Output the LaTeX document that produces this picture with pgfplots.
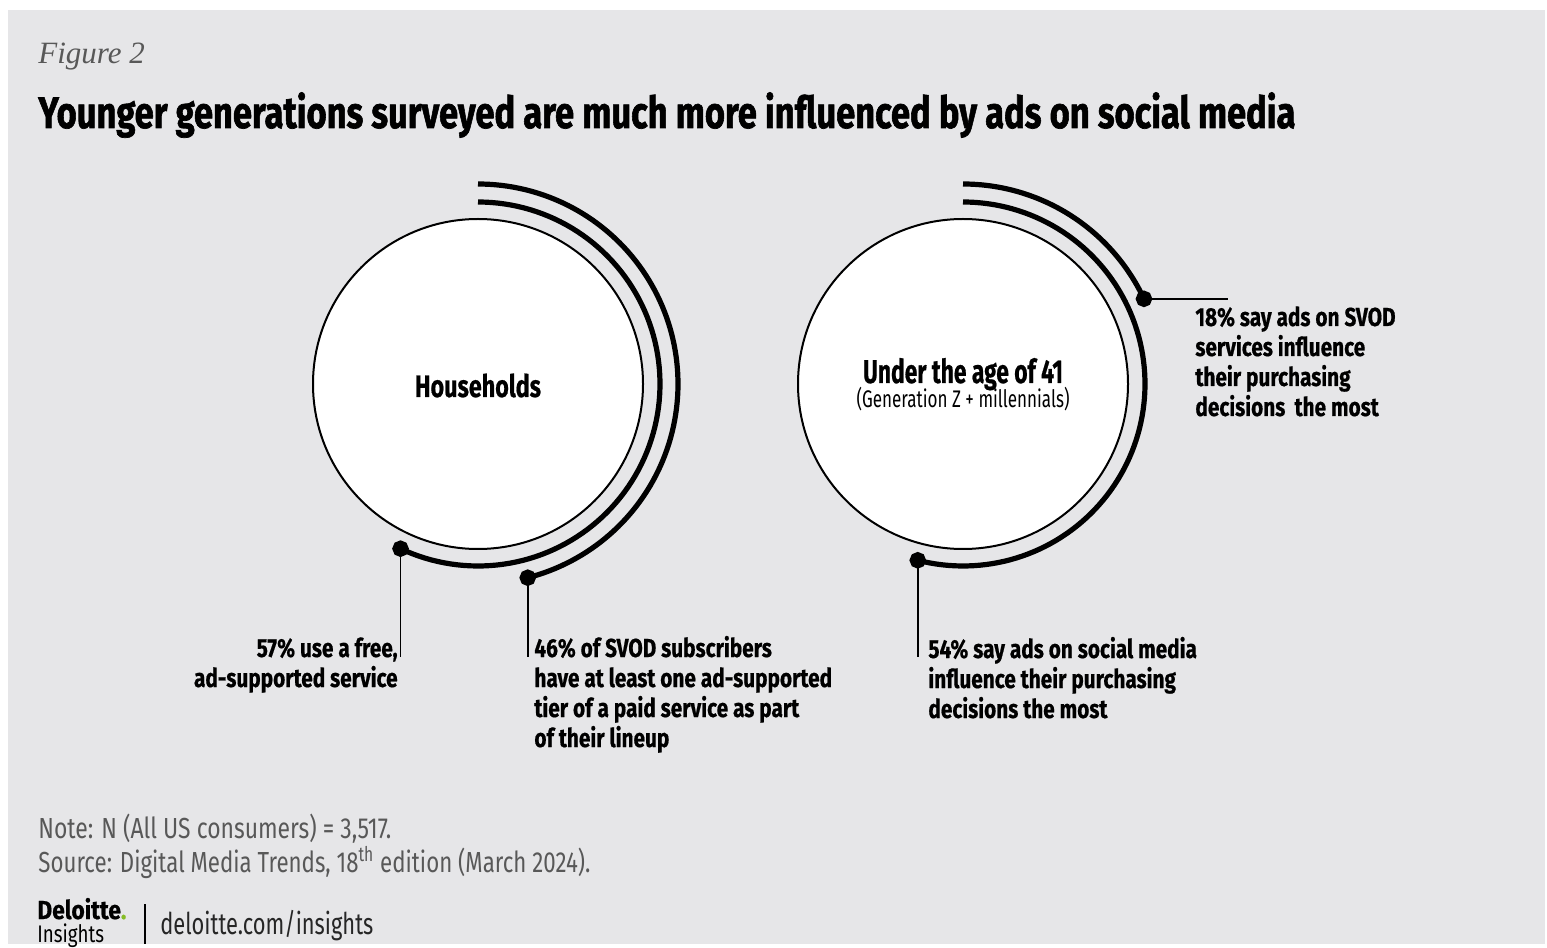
\documentclass[border=0pt]{standalone}
\usepackage{pgfplots}
\pgfplotsset{compat=1.18}
\usepackage{graphicx}
\usepackage{fontspec}
\setmainfont{Fira Sans}
\newfontfamily\cond[FakeStretch=0.78]{Fira Sans}
\newfontfamily\condb[FakeStretch=0.8, FakeBold=0.6]{Fira Sans Bold}
\newfontfamily\titlef[FakeBold=1.6]{Fira Sans Bold}
\newfontfamily\serifit{Liberation Serif}
\definecolor{bgpanel}{RGB}{230,230,232}
\definecolor{notegray}{RGB}{88,88,88}
\definecolor{dgreen}{RGB}{134,188,37}
\newcommand{\fitw}[2]{\resizebox{#1}{\height}{#2}}
\tikzset{lbl/.style={inner sep=0, font=\condb\fontsize{13}{15}\selectfont}}
\pgfplotsset{arcstyle/.style={black, line width=2.6pt, samples=100, mark=*, mark indices={100},
  mark size=2.8pt, mark options={draw=none, fill=black}}}
\begin{document}
\begin{tikzpicture}
\begin{axis}[x=0.5pt, y=0.5pt, xmin=0, xmax=1547, ymin=0, ymax=944,
  hide axis, clip=false, scale only axis]
% background
\fill[white] (axis cs:0,0) rectangle (axis cs:1547,944);
\fill[bgpanel] (axis cs:8,0) rectangle (axis cs:1545,934);
% circles
\draw[line width=1pt, fill=white] (axis cs:478,560) circle[radius=165];
\draw[line width=1pt, fill=white] (axis cs:963,560) circle[radius=165];
% arcs (value in percent of full turn, clockwise from top)
\addplot[arcstyle, domain=0:57] ({478+182*sin(3.6*x)},{560+182*cos(3.6*x)});
\addplot[arcstyle, domain=0:46] ({478+200*sin(3.6*x)},{560+200*cos(3.6*x)});
\addplot[arcstyle, domain=0:54] ({963+182*sin(3.6*x)},{560+182*cos(3.6*x)});
\addplot[arcstyle, domain=0:18] ({963+200*sin(3.6*x)},{560+200*cos(3.6*x)});
% leader lines
\draw[line width=0.8pt] (axis cs:{478+182*sin(205.2)},{560+182*cos(205.2)}) -- (axis cs:{478+182*sin(205.2)},287);
\draw[line width=0.8pt] (axis cs:{478+200*sin(165.6)},{560+200*cos(165.6)}) -- (axis cs:{478+200*sin(165.6)},287);
\draw[line width=0.8pt] (axis cs:{963+182*sin(194.4)},{560+182*cos(194.4)}) -- (axis cs:{963+182*sin(194.4)},287);
\draw[line width=0.8pt] (axis cs:{963+200*sin(64.8)},{560+200*cos(64.8)}) -- (axis cs:1228,{560+200*cos(64.8)});
% texts
\node[anchor=base west, inner sep=0, text=notegray, font=\serifit\itshape\fontsize{15.5}{18}\selectfont] at (axis cs:38,880) {Figure 2};
\node[anchor=base west, inner sep=0] at (axis cs:38,816) {\fitw{628.5pt}{\titlef\fontsize{22}{26}\selectfont Younger generations surveyed are much more influenced by ads on social media}};
\node[anchor=base, inner sep=0] at (axis cs:478,547) {\fitw{63pt}{\condb\fontsize{15.5}{18}\selectfont Households}};
\node[anchor=base, inner sep=0] at (axis cs:963,561) {\fitw{100pt}{\condb\fontsize{16.5}{20}\selectfont Under the age of 41}};
\node[anchor=base, inner sep=0] at (axis cs:963,536) {\fitw{106.5pt}{\cond\fontsize{12}{14}\selectfont (Generation Z + millennials)}};
\node[lbl, anchor=base east] at (axis cs:398,287) {57\% use a free,};
\node[lbl, anchor=base east] at (axis cs:398,257) {ad-supported service};
\node[lbl, anchor=base west] at (axis cs:534,287) {46\% of SVOD subscribers};
\node[lbl, anchor=base west] at (axis cs:534,257) {have at least one ad-supported};
\node[lbl, anchor=base west] at (axis cs:534,227) {tier of a paid service as part};
\node[lbl, anchor=base west] at (axis cs:534,197) {of their lineup};
\node[lbl, anchor=base west] at (axis cs:928,286) {54\% say ads on social media};
\node[lbl, anchor=base west] at (axis cs:928,256) {influence their purchasing};
\node[lbl, anchor=base west] at (axis cs:928,226) {decisions the most};
\node[lbl, anchor=base west] at (axis cs:1195,618) {18\% say ads on SVOD};
\node[lbl, anchor=base west] at (axis cs:1195,588) {services influence};
\node[lbl, anchor=base west] at (axis cs:1195,558) {their purchasing};
\node[lbl, anchor=base west] at (axis cs:1195,528) {decisions\, the most};
% notes
\node[anchor=base west, inner sep=0, text=notegray] at (axis cs:38,106) {\fitw{176.5pt}{\cond\fontsize{14.5}{17}\selectfont Note: N (All US consumers) = 3,517.}};
\node[anchor=base west, inner sep=0, text=notegray] at (axis cs:38,72) {\fitw{276pt}{\cond\fontsize{14.5}{17}\selectfont Source: Digital Media Trends, 18\textsuperscript{th} edition (March 2024).}};
\node[anchor=base west, inner sep=0] at (axis cs:37,25) {\fitw{44.5pt}{\condb\fontsize{13}{14}\selectfont Deloitte\textcolor{dgreen}{.}}};
\node[anchor=base west, inner sep=0, font=\cond\fontsize{12}{14}\selectfont] at (axis cs:37,2) {Insights};
\draw[line width=0.6pt] (axis cs:145,40) -- (axis cs:145,0);
\node[anchor=base west, inner sep=0, text=black!85] at (axis cs:160,10) {\fitw{106.5pt}{\cond\fontsize{15}{18}\selectfont deloitte.com/insights}};
\end{axis}
\end{tikzpicture}
\end{document}
